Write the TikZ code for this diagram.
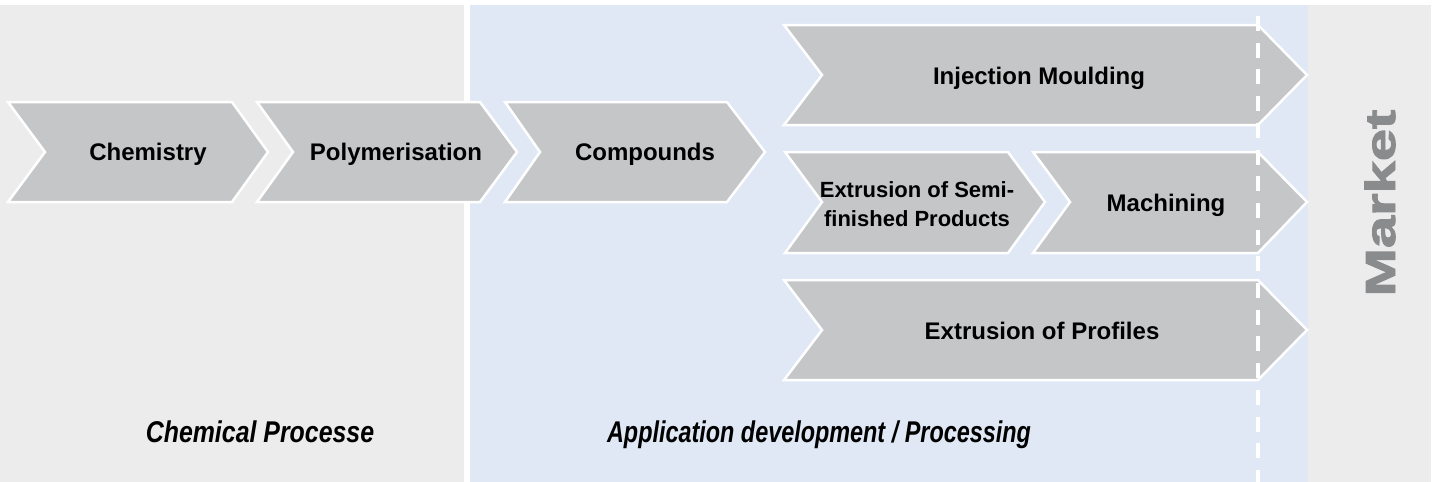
\documentclass[tikz,border=0pt]{standalone}
\usepackage{fontspec}
\setmainfont{Liberation Sans}
\newfontfamily\marketfont[FakeBold=2]{Liberation Sans}
\usepackage{graphicx}
\definecolor{greybg}{HTML}{ECECEC}
\definecolor{bluebg}{HTML}{DFE8F4}
\definecolor{boxfill}{HTML}{C5C6C8}
\definecolor{marketgray}{HTML}{8A8B8D}
\tikzset{
  chev/.style={fill=boxfill, draw=white, line width=1.25pt, line join=miter},
  lbl/.style={font=\bfseries\fontsize{12}{14}\selectfont, text=black, inner sep=0pt, anchor=base},
  lbltwo/.style={font=\bfseries\fontsize{11}{14.5}\selectfont, text=black, inner sep=0pt, align=center},
  phase/.style={font=\bfseries\itshape\fontsize{15}{18}\selectfont, text=black, inner sep=0pt, anchor=base},
  marketlbl/.style={font=\marketfont\bfseries\fontsize{21}{24}\selectfont, text=marketgray, inner sep=0pt, anchor=base, rotate=90},
  dashline/.style={draw=white, line width=2pt, dash pattern=on 7.5pt off 5.85pt}
}
\begin{document}
\begin{tikzpicture}[x=0.5pt,y=-0.5pt]
\useasboundingbox (0,0) rectangle (1436,482);
% backgrounds
\fill[white] (0,0) rectangle (1436,482);
\fill[greybg] (0,5) rectangle (464,482);
\fill[bluebg] (470,5) rectangle (1308,482);
\fill[greybg] (1308,5) rectangle (1431,482);

% main row
\draw[chev] (8,102) -- (232,102) -- (268,152) -- (232,202) -- (8,202) -- (45,152) -- cycle;
\node[lbl] (chem) at (148,160.6) {Chemistry};
\draw[chev] (257,102) -- (480,102) -- (517,152) -- (480,202) -- (257,202) -- (293,152) -- cycle;
\node[lbl] (poly) at (396,160.6) {Polymerisation};
\draw[chev] (505,102) -- (727,102) -- (765,152) -- (727,202) -- (505,202) -- (540,152) -- cycle;
\node[lbl] (comp) at (645,160.6) {Compounds};

% branch rows
\draw[chev] (784,25) -- (1258,25) -- (1307,75) -- (1258,125) -- (784,125) -- (822,75) -- cycle;
\node[lbl] (inj) at (1039,84) {Injection Moulding};
\draw[chev] (785,152) -- (1008,152) -- (1045,202) -- (1008,253) -- (785,253) -- (822,202) -- cycle;
\node[lbltwo] (semi) at (917,204) {Extrusion of Semi-\\finished Products};
\draw[chev] (1033,152) -- (1258,152) -- (1307,202) -- (1258,253) -- (1033,253) -- (1070,202) -- cycle;
\node[lbl] (mach) at (1166,211) {Machining};
\draw[chev] (784,280) -- (1258,280) -- (1307,330) -- (1258,380) -- (784,380) -- (822,330) -- cycle;
\node[lbl] (prof) at (1042,339) {Extrusion of Profiles};

% dashed market boundary
\coordinate (dtop) at (1258,16);
\coordinate (dbot) at (1258,482);
\draw[dashline] (dtop) -- (dbot);

% phase labels
\node[phase] (chemproc) at (260,442) {\scalebox{0.83}[1]{Chemical Processe}};
\node[phase] (appdev) at (819,442) {\scalebox{0.78}[1]{Application development / Processing}};

% market
\node[marketlbl] (market) at (1395,203) {\scalebox{1.38}[1]{Market}};
\end{tikzpicture}
\end{document}
